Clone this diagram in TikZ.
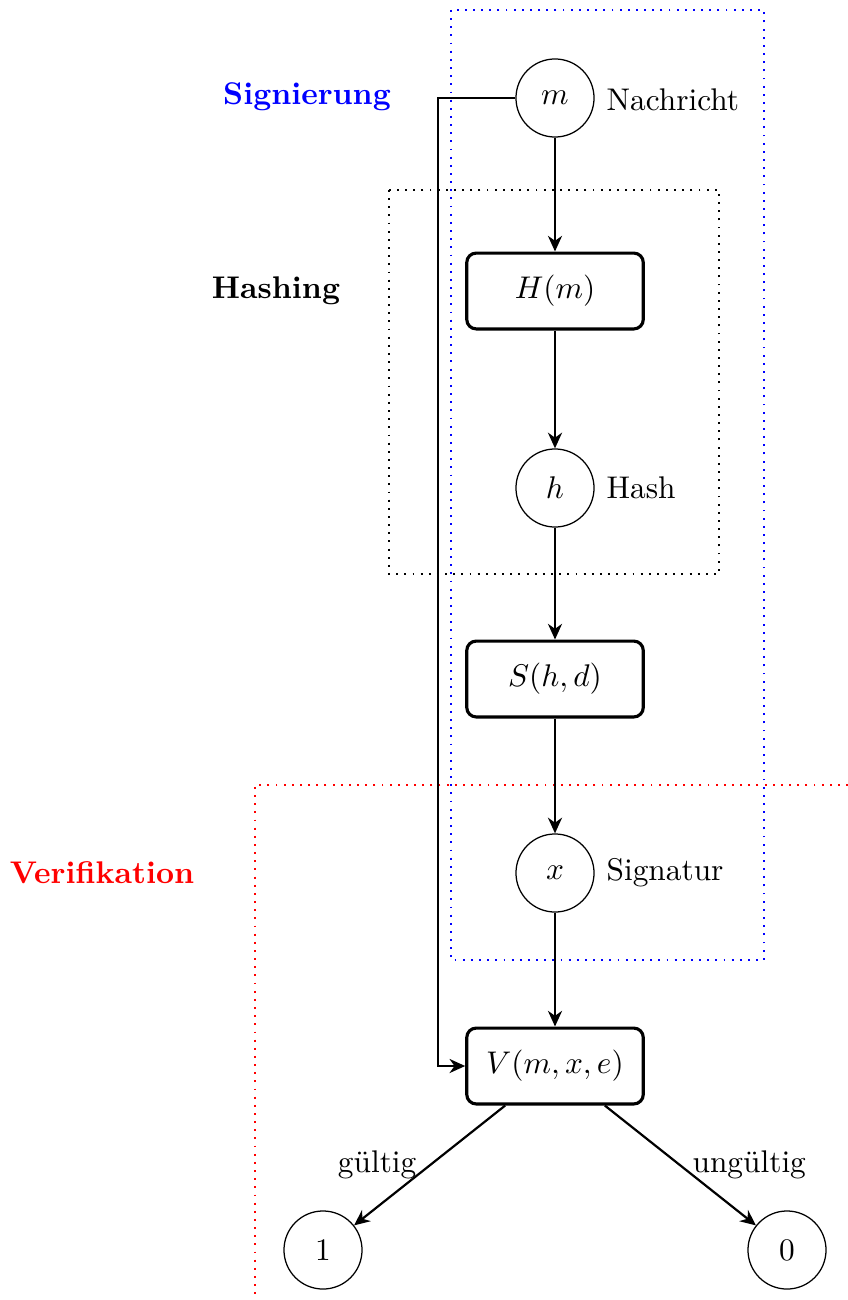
\documentclass[tikz,border=0pt]{standalone}
\usetikzlibrary{arrows.meta}
\begin{document}
\begin{tikzpicture}[x=0.319pt, y=-0.319pt,
  state/.style={draw, circle, line width=0.4pt, minimum size=24.9pt, inner sep=0pt},
  func/.style={draw, rectangle, rounded corners=3pt, line width=1pt,
               minimum width=56.3pt, minimum height=24.2pt, inner sep=0pt},
  flow/.style={-{Stealth[length=5pt,width=4.5pt,inset=1.6pt]}, line width=0.7pt},
  lbl/.style={anchor=west, inner sep=0pt},
  region/.style={dotted, line width=0.6pt},
  title/.style={font=\bfseries, inner sep=0pt}]
\useasboundingbox (0,0) rectangle (848,1300);

% phase frames
\draw[region, blue] (451,10) rectangle (764,960);
\draw[region, black] (389,190) rectangle (719,574);
\draw[region, red] (848,785) -- (255,785) -- (255,1300);

% phase titles
\node[title, text=blue] (tsig) at (307,97) {Signierung};
\node[title] (thash) at (276,291) {Hashing};
\node[title, text=red] (tver) at (102,873) {Verifikation};

% data and operations
\node[state] (m) at (555,98) {$m$};
\node[lbl] (lm) at (606,100) {Nachricht};
\node[func] (H) at (555,291) {$H(m)$};
\node[state] (h) at (555,488) {$h$};
\node[lbl] (lh) at (606,488) {Hash};
\node[func] (S) at (555,679) {$S(h,d)$};
\node[state] (x) at (555,873) {$x$};
\node[lbl] (lx) at (606,873) {Signatur};
\node[func] (V) at (555,1066) {$V(m,x,e)$};
\node[state] (one) at (323,1250) {$1$};
\node[state] (zero) at (787,1250) {$0$};

% signing and verification flow
\draw[flow] (m) -- (H);
\draw[flow] (H) -- (h);
\draw[flow] (h) -- (S);
\draw[flow] (S) -- (x);
\draw[flow] (x) -- (V);
\coordinate (bendtop) at (438,98);
\coordinate (bendbot) at (438,1066);
\draw[flow] (m.west) -- (bendtop) -- (bendbot) -- (V.west);

% decision
\draw[flow] (V) -- (one);
\draw[flow] (V) -- (zero);
\node[anchor=east, inner sep=0pt] (lg) at (417,1165) {gültig};
\node[anchor=west, inner sep=0pt] (lu) at (692,1165) {ungültig};
\end{tikzpicture}
\end{document}
